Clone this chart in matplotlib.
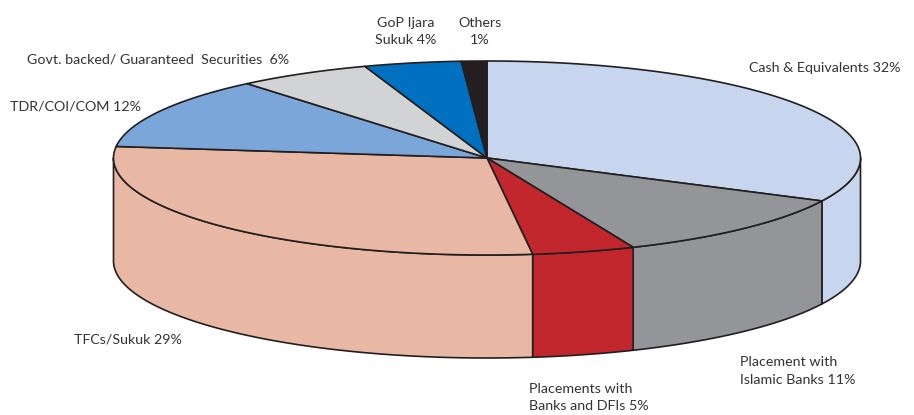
import numpy as np
import matplotlib
matplotlib.use("Agg")
import matplotlib.pyplot as plt

plt.rcParams['font.family'] = ['Lato', 'DejaVu Sans']

# share of each slice as drawn, clockwise from 12 o'clock
names = ['Cash', 'Islamic', 'Banks', 'TFC', 'TDR', 'Govt', 'GoP', 'Others']
values = [32.3, 11.3, 4.45, 28.85, 12, 5.8, 4.2, 1.1]
colors = ['#c7d5ef', '#939598', '#c1272d', '#e8b8a5', '#7ba6da', '#d1d3d4', '#0070c0', '#231f20']

labels = ['Cash & Equivalents 32%', 'Placement with\nIslamic Banks 11%',
          'Placements with\nBanks and DFIs 5%', 'TFCs/Sukuk 29%', 'TDR/COI/COM 12%',
          'Govt. backed/ Guaranteed  Securities  6%', 'GoP Ijara\nSukuk 4%', 'Others\n1%']
label_x = [749, 740, 529, 74, 10, 27, 406, 480]
label_y = [68.5, 371, 397.5, 339.5, 106, 59.5, 31.5, 31.5]
label_ha = ['left', 'left', 'left', 'left', 'left', 'left', 'center', 'center']

# pie geometry in pixels
cx, cy = 487, 158
rx, ry = 373.5, 97
depth = 103


def rim(a0, a1):
    t = np.radians(np.linspace(a0, a1, 200))
    return cx + rx * np.sin(t), cy - ry * np.cos(t)


fig = plt.figure(figsize=(9.14, 4.15), dpi=100)
ax = fig.add_axes([0, 0, 1, 1])
ax.set_xlim(0, 914)
ax.set_ylim(415, 0)
ax.axis('off')

edges = np.cumsum([0] + values) * 360.0 / sum(values)

# walls first, only the front half of the rim shows
for i in range(len(values)):
    a0 = max(edges[i], 90)
    a1 = min(edges[i + 1], 270)
    if a1 <= a0:
        continue
    x, y = rim(a0, a1)
    ax.fill(np.r_[x, x[::-1]], np.r_[y, y[::-1] + depth],
            facecolor=colors[i], edgecolor='#231f20', lw=1.2, joinstyle='round')

# top face
for i in range(len(values)):
    x, y = rim(edges[i], edges[i + 1])
    ax.fill(np.r_[cx, x], np.r_[cy, y],
            facecolor=colors[i], edgecolor='#231f20', lw=1.2, joinstyle='round')

for i in range(len(labels)):
    ax.text(label_x[i], label_y[i], labels[i], fontsize=10.3, color='#333333',
            ha=label_ha[i], va='center', linespacing=1.58)

fig.savefig('out.png', dpi=100)
